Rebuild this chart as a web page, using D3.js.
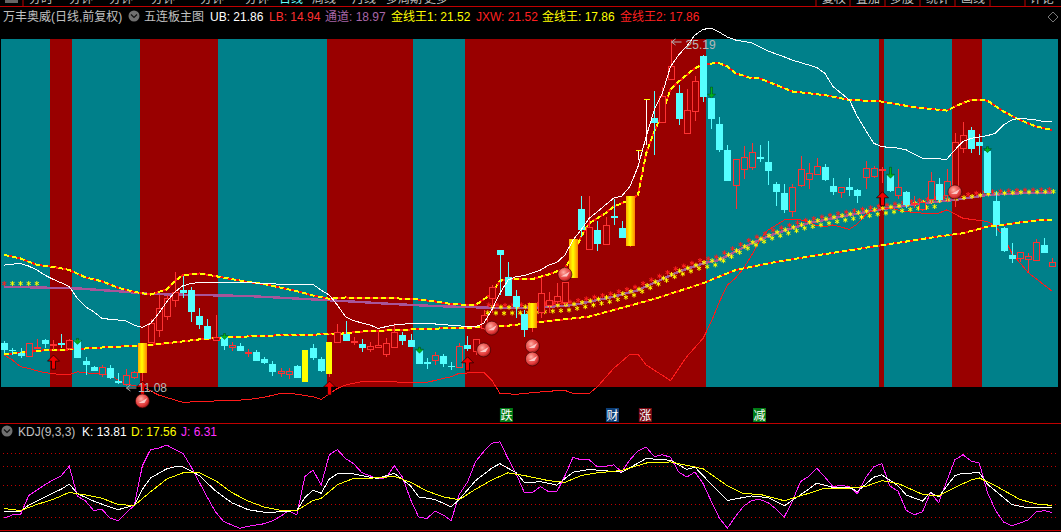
<!DOCTYPE html>
<html><head><meta charset="utf-8">
<script src="https://cdnjs.cloudflare.com/ajax/libs/d3/7.8.5/d3.min.js"></script>
<style>html,body{margin:0;padding:0;background:#000;overflow:hidden}svg{display:block}text{font-family:"Liberation Sans","Noto Sans CJK SC",sans-serif;font-size:12px}</style>
</head><body><div id="c"></div>
<script>
// candles: index is the position of the trading day
const opens=[12.83,12.56,12.44,12.27,12.65,12.95,12.75,12.82,12.61,12.95,12.10,11.85,11.57,11.81,11.27,11.13,11.46,11.62,12.84,13.39,13.90,14.56,14.99,14.99,13.93,13.52,12.98,13.12,12.65,12.71,12.41,12.46,12.18,11.97,11.59,11.59,11.89,11.25,12.63,12.18,11.58,12.89,13.20,
12.90,12.79,12.60,12.68,12.36,12.68,13.16,12.96,12.55,12.04,12.11,12.30,11.91,11.84,12.75,12.48,13.47,14.65,16.62,15.52,14.75,14.02,13.44,14.07,14.38,14.56,14.52,
15.50,18.30,16.69,17.45,16.86,18.02,17.53,16.79,20.68,22.77,22.01,21.86,23.56,23.02,21.39,22.31,24.54,22.83,21.77,20.71,19.29,19.92,20.00,20.42,20.22,19.32,18.95,18.21,19.27,19.51,
19.76,20.00,19.24,18.97,19.21,19.08,19.58,19.62,19.87,19.69,18.87,18.98,18.53,18.32,18.70,19.32,18.87,18.81,20.80,21.52,21.03,20.67,18.63,17.53,16.43,16.33,16.26,16.22,16.82,15.95];
const highs=[12.91,12.65,12.63,12.82,12.98,12.99,12.95,13.22,12.98,12.98,12.26,11.91,11.92,11.92,11.59,11.76,11.70,12.82,13.81,14.79,14.79,15.71,15.56,15.10,14.28,13.80,13.97,13.16,12.89,12.82,12.57,12.55,12.26,12.11,11.80,11.80,11.95,12.55,12.79,12.25,12.87,13.61,13.73,
13.06,13.00,12.89,13.30,13.02,13.63,13.30,13.20,12.62,12.21,12.48,12.38,12.04,12.82,13.12,12.98,14.18,15.20,16.62,16.14,14.99,14.18,14.46,15.54,14.91,15.27,15.33,
17.07,18.81,18.83,17.79,17.99,18.71,17.81,18.83,20.68,22.77,23.11,23.26,25.19,23.36,23.18,23.74,24.58,23.29,22.04,20.91,20.33,20.87,20.98,20.91,21.07,19.39,19.32,19.32,20.46,20.16,
20.37,20.12,19.55,19.21,19.55,19.10,20.26,20.06,20.00,19.96,19.92,19.05,18.83,18.67,19.82,19.55,19.92,21.39,21.86,21.63,21.35,20.78,19.01,17.58,16.90,16.56,16.52,17.07,17.12,16.29];
const lows=[12.41,12.34,12.22,12.27,12.61,12.64,12.55,12.65,12.55,12.22,11.54,11.68,11.46,11.38,11.16,11.10,11.35,11.08,12.84,13.06,13.77,14.31,14.65,13.70,13.42,12.98,12.95,12.55,12.52,12.52,12.27,12.08,11.97,11.49,11.43,11.36,11.40,11.25,12.16,11.66,11.46,12.89,12.91,
12.75,12.48,12.47,12.68,12.28,12.68,12.75,12.68,11.98,11.79,11.94,11.87,11.73,11.80,12.52,12.34,13.36,14.07,14.79,14.75,13.87,13.09,13.30,13.84,14.04,14.42,14.38,
15.50,17.17,16.69,16.60,16.83,17.65,17.11,16.73,20.30,20.91,20.50,21.86,23.56,21.73,21.39,21.90,22.68,21.58,20.64,19.42,18.30,19.54,19.87,20.23,19.28,18.42,18.15,17.99,19.19,19.12,
19.76,19.42,18.87,18.74,18.81,18.56,19.12,19.55,19.35,19.01,18.71,18.33,18.33,18.22,18.53,18.60,18.60,18.37,20.60,20.60,20.50,18.94,17.18,16.56,16.09,16.13,15.68,16.22,16.50,15.92];
const closes=[12.55,12.52,12.31,12.82,12.68,12.79,12.79,12.74,12.95,12.22,11.95,11.70,11.87,11.40,11.20,11.51,11.65,12.82,13.63,14.28,14.65,14.90,14.88,14.11,13.58,12.98,13.09,12.72,12.74,12.52,12.45,12.10,12.00,11.65,11.68,11.70,11.40,12.55,12.22,11.68,12.87,13.29,12.91,
12.93,12.63,12.71,12.75,12.82,13.30,12.93,12.68,11.98,12.02,12.33,11.98,11.84,12.71,12.57,12.98,13.99,15.10,16.42,14.75,14.31,13.36,14.46,14.86,14.59,14.75,15.33,
17.07,17.45,17.58,16.88,17.64,17.95,17.12,18.83,20.68,22.77,21.82,22.91,24.11,21.97,22.34,23.52,22.88,21.97,20.71,19.44,20.33,20.41,20.61,20.35,19.85,18.99,18.26,19.19,19.92,19.76,
20.07,19.49,19.00,19.19,19.08,18.83,19.96,19.96,19.92,19.04,19.19,18.47,18.56,18.60,19.43,18.67,19.46,21.02,21.31,20.75,20.87,18.94,17.65,16.59,16.26,16.56,16.40,16.94,16.52,16.13];
const limitBars=[17,37,40,65,70,77];
const slimBars=[37,40];
const tBars=[78,79];
const redRuns=[[6,8],[17,26],[40,50],[57,86],[108,108],[117,120]];

// overlay lines: bar index / price
const ubIdx=[0,1,2,3,4,5,6,7,8,9,10,11,12,13,14,15,16,17,18,19,20,21,22,23,24,26,28,30,31,33,34,35,36,38,39,40,41,42,43,45,46,48,50,53,56,58,59,60,61,62,63,64,66,67,68,69,70,71,72,73,74,75,76,77,78,79,80,81,82,83,84,85,86,87,88,89,90,92,94,96,97,99,100,101,102,103,104,105,106,107,108,110,111,113,115,116,117,118,119,121,122,123,124,125,127,128,129];
const ubVal=[16.01,16.05,16.08,15.97,15.81,15.60,15.43,15.29,15.13,14.65,14.31,14.11,13.84,13.80,13.77,13.73,13.56,13.47,13.63,14.04,14.52,14.92,15.17,15.26,15.30,15.30,15.29,15.29,15.28,15.26,15.21,15.20,15.21,15.22,14.99,14.79,14.38,13.90,13.74,13.57,13.43,13.57,13.63,13.61,13.53,13.50,13.63,14.18,14.86,15.40,15.54,15.58,15.81,16.01,16.12,16.42,17.03,17.45,17.92,18.19,18.47,18.74,18.83,19.21,20.03,21.25,22.34,23.02,24.11,24.58,24.94,25.39,25.62,25.68,25.51,25.31,25.19,25.07,24.74,24.50,24.37,24.17,24.07,23.83,23.29,23.02,22.75,22.07,21.52,20.98,20.84,20.78,20.71,20.37,20.34,20.33,20.71,21.05,21.18,21.29,21.39,21.73,21.93,22.00,21.93,21.85,21.86];
const lbIdx=[0,1,2,3,4,5,6,7,8,9,10,11,12,13,14,15,16,17,19,22,24,26,28,30,32,34,36,38,39,41,42,44,47,50,52,55,56,58,59,60,61,63,65,68,69,70,72,73,75,77,78,79,82,84,86,87,88,89,90,91,92,93,94,95,96,97,98,99,100,101,102,103,104,105,106,107,108,109,110,111,113,115,116,118,120,121,122,123,124,126,129];
const lbVal=[12.34,12.14,11.87,11.80,11.70,11.62,11.59,11.54,11.54,11.66,11.62,11.59,11.57,11.53,11.32,11.16,11.09,11.05,10.71,10.41,10.45,10.47,10.48,10.53,10.62,10.78,10.75,10.64,10.53,10.98,11.12,11.26,11.26,11.22,11.23,11.46,11.60,11.62,11.64,11.32,10.78,10.74,10.81,10.89,10.90,10.78,10.78,11.05,11.80,12.37,12.37,11.94,11.30,12.28,13.02,13.69,14.50,15.20,15.48,15.89,16.42,17.03,17.44,17.64,17.85,17.89,17.85,17.77,17.62,17.58,17.65,17.56,17.47,17.69,18.06,18.26,18.33,18.33,18.26,18.19,18.13,18.13,18.26,17.92,17.83,17.79,17.58,17.18,16.50,15.71,14.94];
const midIdx=[0,5,9,12,15,18,24,30,34,38,42,48,53,58,62,66,70,75,78,83,86,88,92,95,99,103,108,113,117,121,125,129];
const midVal=[15.13,15.09,15.06,14.99,14.92,14.83,14.79,14.75,14.68,14.61,14.54,14.42,14.34,14.29,14.25,14.29,14.38,14.72,14.99,15.74,16.08,16.22,16.90,17.31,17.72,17.99,18.29,18.53,18.67,18.87,18.94,18.97];
const jx1Idx=[0,2,4,6,8,10,12,14,16,18,20,21,22,24,26,28,30,32,34,36,38,40,42,43,50,53,55,58,59,60,61,62,65,67,69,70,71,72,73,74,75,76,77,78,79,80,81,82,83,84,85,86,87,88,89,90,92,93,95,97,99,101,104,108,112,116,117,119,121,123,125,127,129];
const jx1Val=[16.43,16.28,16.02,15.94,15.81,15.51,15.35,15.09,14.92,14.81,15.02,15.37,15.60,15.67,15.56,15.44,15.32,15.24,15.09,14.95,14.77,14.64,14.69,14.68,14.64,14.53,14.42,14.38,14.61,14.86,15.37,15.43,15.44,15.63,15.88,16.42,17.17,17.72,17.92,18.13,18.40,18.53,18.67,18.87,20.57,21.46,22.20,23.18,23.49,23.77,24.04,24.20,24.23,24.24,24.11,23.83,23.63,23.62,23.36,23.09,23.02,22.94,22.75,22.68,22.45,22.31,22.48,22.75,22.72,22.27,21.93,21.66,21.52];
const jx2Idx=[0,4,8,12,16,18,21,24,26,28,32,36,41,44,48,53,58,62,65,69,72,75,80,86,90,95,99,103,107,111,115,118,121,123,125,127,129];
const jx2Val=[12.37,12.52,12.57,12.65,12.72,12.76,12.86,12.98,13.03,13.07,13.13,13.16,13.20,13.30,13.36,13.42,13.47,13.54,13.66,13.80,13.91,14.18,14.63,15.27,15.81,16.14,16.36,16.56,16.77,16.97,17.18,17.31,17.58,17.65,17.75,17.83,17.86];
const starLeft=[0,1,2,3,4];
const starLeftPrice=15.26;
const starFrom=60, starLowerTo=116;

// signals
const ballIdx=[17,59,60,65,65,69,117];
const ballPrice=[10.47,12.55,13.44,12.71,12.18,15.63,18.99];
const upIdx=[6,17,40,57,108];
const upPrice=[12.34,11.28,11.28,12.27,19.0];
const downIdx=[9,27,51,87,109,121];
const downPrice=[13.02,13.22,12.66,23.27,20.0,20.84];
const downLong=[false,false,false,true,true,false];
const tags=[["跌",61.8,"#007a14"],["财",74.85,"#0d3f78"],["涨",78.9,"#7a0a14"],["减",92.95,"#007a14"]];
const lowLabel={i:17,price:11.08,text:"11.08"};
const highLabel={i:82,price:25.19,text:"25.19"};

// KDJ
const jVal=[-2,2.7,3.2,33,41.5,50,57.5,64,79,32,24.5,9.6,11.7,-2,-6.4,5.9,18,80,105,107.5,112,105,99,78,54,30,7.5,-7.5,-13,-18,-15,-13,-11,-6.4,0.5,9.6,2.7,63,73,49.5,97,105,91,83,69,64,59,61,80,62,27,-0.5,-3,8.5,3,-6.4,35,54,86,102,115,117,91,67,38,
38,47,39,39,64,93,89,89,78,79,81,70,89,103,109,94,97,93,70,62,70,52,24.5,-2,-18,0.5,16.5,25.5,27,22,12,-0.5,24.5,55,63,76,62,47,49,47,36,61,78,83,48,40,10,3,7.5,38,22,56,89,97,87,84,38,10,-8.5,-14,-10,-5,7.5,9.6,6.31];
const dIdx=[0,2,4,6,8,10,12,14,16,18,20,22,24,26,28,30,32,34,36,38,39,41,43,46,48,50,52,54,56,58,60,62,64,65,67,69,71,73,76,79,82,84,86,89,91,93,96,98,101,104,106,108,110,113,115,117,119,120,122,125,127,129];
const dVal=[12.8,9.6,19.2,27,38,34,29,19,17.6,39,59,68.7,68.7,56.4,37.8,24.5,15,10,9.6,25.5,28.7,50,60,60.7,63.3,53.8,40.4,31,26.6,43,57.5,68.7,64.4,61.7,56.4,53.8,64.4,68.7,72.4,84,85.7,80.4,75,48.4,36,35,25,32.5,44.7,44.7,47.4,56.4,52,35,32.5,45.8,57.5,60.7,48.4,27,20,17.56];
const kIdx=[0,2,3,5,7,8,9,11,13,14,16,17,18,20,21,22,24,26,28,30,32,34,36,37,38,39,40,41,43,45,46,48,50,51,53,55,56,58,60,61,63,64,65,66,68,70,72,76,79,82,84,85,87,89,92,94,96,99,100,102,104,105,107,108,110,111,113,114,115,117,118,120,121,124,126,129];
const kVal=[7.5,8.5,18,31,43,51,36,24.5,15,11,18,43,60.7,75,78,78,64.4,40.4,21.8,11,7,7.5,9.6,30,41.5,36.7,59,67,67,61.7,60,68,48.4,31,27,15.4,27,56.4,76,83,68.7,53.8,53.8,54.8,49.5,69.7,74,69.7,91,88.3,74,77.7,51,25.5,32.5,29.8,17,43,52.7,45.8,45.8,39.4,61.7,65.5,48.4,34,24.5,37.8,31,64.4,68,68.7,51,19,13.8,13.81];
const kdjLevels=[0,20,50,80,100];

const titleLeft=[["万丰奥威(日线,前复权)",3,"#c0c0c0"],["五连板主图",144,"#c0c0c0"],["UB: 21.86",210,"#ffffff"],["LB: 14.94",269,"#ff3030"],["通道: 18.97",325,"#a866a8"],["金线王1: 21.52",391,"#ffff00"],["JXW: 21.52",476,"#ff2020"],["金线王: 17.86",542,"#ffff00"],["金线王2: 17.86",620,"#ff2020"]];
const kdjTitle=[["KDJ(9,3,3)",18,"#c0c0c0"],["K: 13.81",82,"#ffffff"],["D: 17.56",131,"#ffff00"],["J: 6.31",181,"#ff30ff"]];
const topTabs=[["分时",29,"#c0c0c0"],["分钟",69,"#c0c0c0"],["分钟",109,"#c0c0c0"],["分钟",151,"#c0c0c0"],["分钟",200,"#c0c0c0"],["分钟",245,"#c0c0c0"],["日线",279,"#66ffff"],["周线",312,"#c0c0c0"],["月线",352,"#c0c0c0"],["多周期",386,"#c0c0c0"],["更多",424,"#c0c0c0"],
 ["复权",822,"#c0c0c0"],["叠加",856,"#c0c0c0"],["多股",890,"#c0c0c0"],["统计",926,"#c0c0c0"],["画线",961,"#c0c0c0"],["评论",1030,"#c0c0c0"]];
const tabDividers=[23,816,850,885,920,955,990,1025];

const W=1061,H=532,TEAL="#00808a",DARKRED="#990000",RED="#ff3232",CYAN="#55ffff";
const svg=d3.select("#c").append("svg").attr("width",W).attr("height",H);
svg.append("rect").attr("width",W).attr("height",H).attr("fill","#000");
const defs=svg.append("defs");
const g1=defs.append("linearGradient").attr("id","gold");
[["0%","#ffa000"],["50%","#ffff00"],["100%","#ff9000"]].forEach(s=>g1.append("stop").attr("offset",s[0]).attr("stop-color",s[1]));
const g2=defs.append("radialGradient").attr("id","ball").attr("cx","40%").attr("cy","35%").attr("r","70%");
[["0%","#ffb0a8"],["35%","#f06a64"],["70%","#e23a3a"],["100%","#8a1010"]].forEach(s=>g2.append("stop").attr("offset",s[0]).attr("stop-color",s[1]));

const x=d3.scaleLinear().domain([0,129]).range([4.3,1052.4]);
const y=d3.scaleLinear().domain([25.19,11.08]).range([40,386]);
const yK=d3.scaleLinear().domain([0,100]).range([516.7,452.8]);
const px=i=>Math.round(x(i));
const PT=39,PB=387,PL=1,PR=1058;

// chrome
svg.selectAll(".tab").data(topTabs).join("text").attr("x",d=>d[1]).attr("y",3).attr("fill",d=>d[2]).text(d=>d[0]);
svg.append("rect").attr("x",5).attr("y",0).attr("width",13).attr("height",3).attr("fill","#666");
svg.selectAll(".dv").data(tabDividers).join("line").attr("x1",d=>d).attr("x2",d=>d).attr("y1",0).attr("y2",6).attr("stroke","#c00000");
const hRed=[6,423,530];
svg.selectAll(".hr").data(hRed).join("line").attr("x1",0).attr("x2",W).attr("y1",d=>d+.5).attr("y2",d=>d+.5).attr("stroke","#c00000").attr("stroke-width",1);
svg.selectAll(".tt").data(titleLeft).join("text").attr("x",d=>d[1]).attr("y",21).attr("fill",d=>d[2]).text(d=>d[0]);
const icon=(cx,cy)=>{svg.append("circle").attr("cx",cx).attr("cy",cy).attr("r",5.5).attr("fill","#707070");
 svg.append("path").attr("d",`M${cx-3},${cy-1.5}L${cx},${cy+1.5}L${cx+3},${cy-1.5}`).attr("fill","none").attr("stroke","#111").attr("stroke-width",1.2);};
icon(134,16);icon(7,431);
svg.append("path").attr("d","M1053,12L1058,17L1053,22L1048,17Z").attr("fill","none").attr("stroke","#777");

// backgrounds
svg.append("rect").attr("x",PL).attr("y",PT).attr("width",PR-PL).attr("height",PB-PT).attr("fill",TEAL).attr("shape-rendering","crispEdges");
svg.selectAll(".run").data(redRuns).join("rect").attr("fill",DARKRED).attr("shape-rendering","crispEdges")
 .attr("x",d=>Math.round(x(d[0])-2.6)).attr("y",PT).attr("height",PB-PT)
 .attr("width",d=>Math.round(x(d[1])+2.6)-Math.round(x(d[0])-2.6));

// lines
const line=(idx,val,sc=y)=>d3.line().x((d,k)=>x(idx[k])).y(d=>sc(d))(val);
const stroke=(d,c,w,dash)=>svg.append("path").attr("d",d).attr("fill","none").attr("stroke",c).attr("stroke-width",w).attr("stroke-dasharray",dash||null).attr("shape-rendering","crispEdges");
stroke(line(midIdx,midVal),"#a8559a",2.4);
stroke(line(lbIdx,lbVal),"#ff1a1a",1);
[[jx1Idx,jx1Val],[jx2Idx,jx2Val]].forEach(([a,b])=>{
 stroke(line(a,b),"#ff1010",2);
 stroke(line(a,b),"#ffff00",2,"5 3");
});

// stars
const midAt=d3.scaleLinear().domain(midIdx).range(midVal);
const star=d3.symbol().type(d3.symbolAsterisk).size(16);
const stars=[];
d3.range(starFrom,130).forEach(i=>{const p=midAt(i);
 if(i<starLowerTo) stars.push({x:x(i)-4,y:y(p)+5,c:"#ffff00"});
 stars.push({x:x(i)-3,y:y(p)-3,c:"#ff2020"});
 stars.push({x:x(i)+1,y:y(p)-1,c:"#ffff00"});
});
starLeft.forEach((i,k)=>stars.push({x:x(i),y:y(starLeftPrice),c:k?"#ffff00":"#ff2020"}));
svg.selectAll(".st").data(stars).join("path").attr("d",star).attr("transform",d=>`translate(${d.x},${d.y})`).attr("fill","none").attr("stroke",d=>d.c).attr("stroke-width",1);

// candles
const cg=svg.append("g").attr("shape-rendering","crispEdges");
opens.forEach((o,i)=>{
 const c=closes[i],h=highs[i],l=lows[i],X=px(i);
 if(tBars.includes(i)){
  cg.append("line").attr("x1",X+.5).attr("x2",X+.5).attr("y1",y(h)).attr("y2",y(l)).attr("stroke","#ffffff");
  cg.append("line").attr("x1",X-2.5).attr("x2",X+3.5).attr("y1",y(h)).attr("y2",y(h)).attr("stroke","#ffff00");
  return;
 }
 if(limitBars.includes(i)){
  const w=slimBars.includes(i)?6:9;
  cg.append("line").attr("x1",X+.5).attr("x2",X+.5).attr("y1",y(l)).attr("y2",y(o)).attr("stroke",RED);
  cg.append("rect").attr("x",X-w/2).attr("y",y(c)).attr("width",w).attr("height",y(o)-y(c)).attr("fill",slimBars.includes(i)?"#ffff00":"url(#gold)");
  return;
 }
 const up=c>=o, col=up?RED:CYAN, top=y(Math.max(o,c)), bot=y(Math.min(o,c));
 cg.append("line").attr("x1",X+.5).attr("x2",X+.5).attr("y1",y(h)).attr("y2",y(l)).attr("stroke",col);
 const bg=redRuns.some(r=>i>=r[0]&&i<=r[1])?DARKRED:TEAL;
 if(up) cg.append("rect").attr("x",X-3+.5).attr("y",Math.round(top)+.5).attr("width",6).attr("height",Math.max(1,Math.round(bot-top))).attr("fill",bg).attr("stroke",col);
 else cg.append("rect").attr("x",X-3).attr("y",top).attr("width",7).attr("height",Math.max(1.5,bot-top)).attr("fill",col);
});
// white band drawn over candles
stroke(line(ubIdx,ubVal),"#ffffff",1);

// arrows
upIdx.forEach((i,k)=>{const X=px(i)+.5,Y=y(upPrice[k]);
 svg.append("path").attr("d",`M${X},${Y}l6,6h-4v8h-4v-8h-4z`).attr("fill","#f00000").attr("stroke","#000").attr("stroke-width",.7);});
downIdx.forEach((i,k)=>{const X=px(i)+.5,Y=y(downPrice[k]);
 const n=downLong[k]?7:2;
 svg.append("path").attr("d",`M${X-1},${Y}h2v${n}h3l-4,4l-4,-4h3z`).attr("fill","#00b020").attr("stroke","#003000").attr("stroke-width",.4);});

// balls
ballIdx.forEach((i,k)=>{const X=x(i),Y=y(ballPrice[k]);
 svg.append("circle").attr("cx",X).attr("cy",Y).attr("r",7).attr("fill","url(#ball)").attr("stroke","#300").attr("stroke-width",.6);
 svg.append("path").attr("d",`M${X-4},${Y+2}Q${X},${Y} ${X+5},${Y-3}L${X+2},${Y+2}Z`).attr("fill","#ffe0e0").attr("opacity",.8);});

// extreme labels
[[lowLabel,-17,-4.5,6],[highLabel,0,15,9]].forEach(([l,ax,tx,ty])=>{
 const X=x(l.i)+ax,Y=y(l.price);
 svg.append("path").attr("d",`M${X+1},${Y+2}l4,-3m-4,3l4,3m-4,-3h10`).attr("fill","none").attr("stroke","#b0b0b0");
 svg.append("text").attr("x",x(l.i)+tx).attr("y",Y+ty).attr("fill","#b8b8b8").text(l.text);
});

// tags
const tg=svg.selectAll(".tag").data(tags).join("g").attr("transform",d=>`translate(${x(d[1])},408)`);
tg.append("rect").attr("x",-6.5).attr("width",13).attr("height",14).attr("fill",d=>d[2]);
tg.append("text").attr("text-anchor","middle").attr("y",11.5).attr("fill","#fff").text(d=>d[0]);

// KDJ
svg.selectAll(".lv").data(kdjLevels).join("line").attr("x1",PL+2).attr("x2",PR).attr("y1",d=>Math.round(yK(d))+.5).attr("y2",d=>Math.round(yK(d))+.5).attr("stroke","#c00000").attr("stroke-dasharray","1 3");
svg.selectAll(".kt").data(kdjTitle).join("text").attr("x",d=>d[1]).attr("y",436).attr("fill",d=>d[2]).text(d=>d[0]);
const jIdx=d3.range(jVal.length);
[[jIdx,jVal,"#ff20ff"],[kIdx,kVal,"#ffffff"],[dIdx,dVal,"#ffff00"]].forEach(([a,b,c])=>stroke(line(a,b,yK),c,1));
</script></body></html>
